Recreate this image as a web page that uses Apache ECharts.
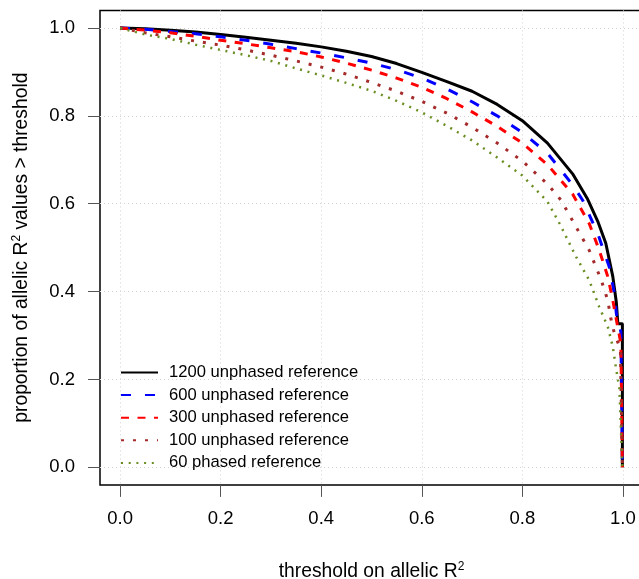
<!DOCTYPE html>
<html>
<head>
<meta charset="utf-8">
<script src="https://cdn.jsdelivr.net/npm/echarts@6/dist/echarts.min.js"></script>
<style>
  html, body { margin: 0; padding: 0; background: #fff; }
  #chart { width: 639px; height: 579px; }
</style>
</head>
<body>
<div id="chart"></div>
<script>
// series names, in legend order
var seriesNames = ['1200 unphased reference', '600 unphased reference', '300 unphased reference',
    '100 unphased reference', '60 phased reference'];

// thresholds (x) and proportions (y)
var x1200 = [0, 0.05, 0.1, 0.15, 0.2, 0.25, 0.3, 0.35, 0.4, 0.45, 0.5, 0.55, 0.6, 0.65, 0.7, 0.75, 0.8, 0.85, 0.9, 0.93, 0.95, 0.966, 0.98, 0.987, 0.99, 0.999, 0.999];
var y1200 = [1, 0.998, 0.995, 0.991, 0.985, 0.979, 0.972, 0.965, 0.957, 0.947, 0.935, 0.919, 0.899, 0.878, 0.856, 0.826, 0.789, 0.738, 0.668, 0.61, 0.56, 0.51, 0.434, 0.375, 0.327, 0.327, 0];

var x600 = [0, 0.05, 0.1, 0.15, 0.2, 0.25, 0.3, 0.35, 0.4, 0.45, 0.5, 0.55, 0.6, 0.65, 0.7, 0.75, 0.8, 0.85, 0.9, 0.92, 0.95, 0.973, 0.983, 0.987, 0.996, 0.999];
var y600 = [1, 0.997, 0.992, 0.987, 0.98, 0.972, 0.963, 0.953, 0.943, 0.932, 0.92, 0.905, 0.886, 0.861, 0.832, 0.8, 0.762, 0.715, 0.643, 0.608, 0.532, 0.456, 0.396, 0.35, 0.308, 0];

var x300 = [0, 0.05, 0.1, 0.15, 0.2, 0.25, 0.3, 0.35, 0.4, 0.45, 0.5, 0.55, 0.6, 0.65, 0.7, 0.75, 0.8, 0.85, 0.9, 0.933, 0.953, 0.97, 0.98, 0.986, 0.996, 0.999];
var y300 = [1, 0.995, 0.989, 0.981, 0.972, 0.964, 0.955, 0.946, 0.934, 0.92, 0.904, 0.886, 0.865, 0.839, 0.809, 0.776, 0.738, 0.689, 0.622, 0.555, 0.494, 0.434, 0.38, 0.342, 0.282, 0];

var x100 = [0, 0.05, 0.1, 0.15, 0.2, 0.25, 0.3, 0.35, 0.4, 0.45, 0.5, 0.55, 0.6, 0.65, 0.7, 0.75, 0.8, 0.85, 0.877, 0.907, 0.933, 0.957, 0.97, 0.976, 0.983, 0.995, 0.999];
var y100 = [1, 0.989, 0.98, 0.97, 0.961, 0.95, 0.938, 0.925, 0.911, 0.895, 0.876, 0.856, 0.833, 0.806, 0.774, 0.738, 0.697, 0.645, 0.608, 0.547, 0.494, 0.426, 0.38, 0.339, 0.305, 0.27, 0];

var x60 = [0, 0.05, 0.1, 0.15, 0.2, 0.25, 0.3, 0.35, 0.4, 0.45, 0.5, 0.55, 0.6, 0.65, 0.7, 0.75, 0.8, 0.85, 0.874, 0.907, 0.933, 0.953, 0.97, 0.98, 0.986, 0.993, 0.999];
var y60 = [1, 0.985, 0.975, 0.962, 0.95, 0.938, 0.925, 0.908, 0.892, 0.875, 0.857, 0.834, 0.808, 0.777, 0.744, 0.705, 0.664, 0.605, 0.555, 0.479, 0.426, 0.365, 0.32, 0.274, 0.228, 0.18, 0];

var tickValues = [0, 0.2, 0.4, 0.6, 0.8, 1.0];
var tickLabels = ['0.0', '0.2', '0.4', '0.6', '0.8', '1.0'];

var xs = [x1200, x600, x300, x100, x60];
var ys = [y1200, y600, y300, y100, y60];
var colors = ['#000000', '#0000ff', '#ff0000', '#a52a2a', '#6b8e23'];
var widths = [3, 3, 3, 3, 2.5];
var dashes = ['solid', [10, 14], [8, 8.5], [3, 9], [2, 5.7]];

function pairs(x, y) {
    var d = [];
    for (var i = 0; i < x.length; i++) d.push([x[i], y[i]]);
    return d;
}

var fontFam = '"Liberation Sans", Arial, sans-serif';

function fmt(v) {
    for (var i = 0; i < tickValues.length; i++) {
        if (Math.abs(v - tickValues[i]) < 1e-6) return tickLabels[i];
    }
    return '';
}

var series = [];
for (var k = 0; k < seriesNames.length; k++) {
    series.push({
        name: seriesNames[k],
        type: 'line',
        data: pairs(xs[k], ys[k]),
        symbol: 'none',
        showSymbol: false,
        silent: true,
        color: colors[k],
        lineStyle: {color: colors[k], width: widths[k], type: dashes[k], cap: 'butt'}
    });
}

var supRich = {s: {fontSize: 12, padding: [0, 0, 10, 0], fontFamily: fontFam, color: '#000'}};

var chart = echarts.init(document.getElementById('chart'));
chart.setOption({
    animation: false,
    backgroundColor: '#fff',
    textStyle: {fontFamily: fontFam},
    grid: {left: 100, top: 10.4, width: 543, height: 474.5, show: true, outerBoundsMode: 'none',
        containLabel: false, borderColor: '#000', borderWidth: 1.5, backgroundColor: 'transparent'},
    legend: {
        orient: 'vertical', left: 115, top: 359, itemWidth: 37, itemHeight: 14, itemGap: 5.6,
        itemStyle: {opacity: 0},
        textStyle: {fontSize: 16.6, color: '#000', fontFamily: fontFam, lineHeight: 17, padding: [0, 0, 0, 6]},
        data: seriesNames
    },
    xAxis: {
        type: 'value', min: -0.04, max: 1.04, interval: 0.2,
        name: 'threshold on allelic R{s|2}', nameLocation: 'middle', nameGap: 76,
        nameTextStyle: {fontSize: 19.3, color: '#000', fontFamily: fontFam, rich: supRich},
        axisLine: {show: false, onZero: false},
        axisTick: {show: true, length: 12, inside: false, lineStyle: {color: '#555', width: 1}, customValues: tickValues},
        axisLabel: {fontSize: 18.5, color: '#000', margin: 25, fontFamily: fontFam, formatter: fmt, customValues: tickValues},
        splitLine: {show: true, lineStyle: {color: '#d3d3d3', width: 1, type: [1, 3]}}
    },
    yAxis: {
        type: 'value', min: -0.04, max: 1.04, interval: 0.2,
        name: 'proportion of allelic R{s|2} values > threshold', nameLocation: 'middle', nameGap: 67, nameRotate: 90,
        nameTextStyle: {fontSize: 19.3, color: '#000', fontFamily: fontFam, rich: supRich},
        axisLine: {show: false, onZero: false},
        axisTick: {show: true, length: 12, inside: false, lineStyle: {color: '#555', width: 1}, customValues: tickValues},
        axisLabel: {fontSize: 18.5, color: '#000', margin: 25, fontFamily: fontFam, formatter: fmt, customValues: tickValues},
        splitLine: {show: true, lineStyle: {color: '#d3d3d3', width: 1, type: [1, 3]}}
    },
    series: series
});
</script>
</body>
</html>
